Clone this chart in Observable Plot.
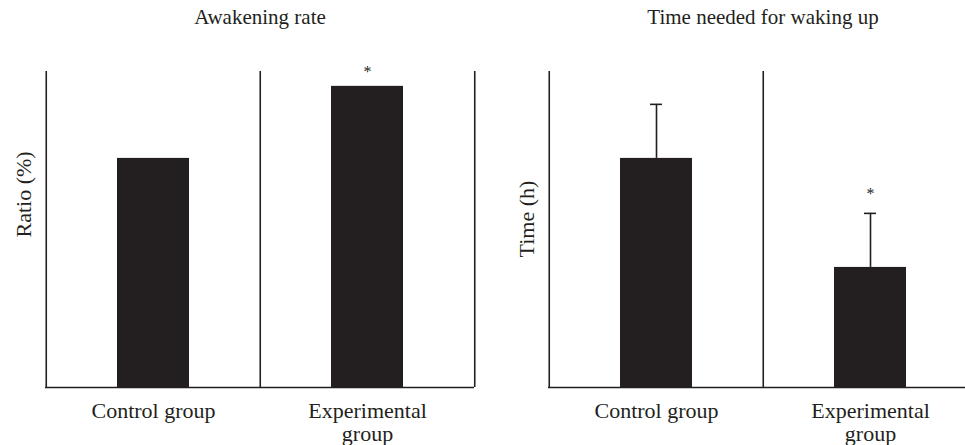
<!DOCTYPE html>
<html><head><meta charset="utf-8">
<script src="https://cdn.jsdelivr.net/npm/d3@7"></script>
<script src="https://cdn.jsdelivr.net/npm/@observablehq/plot@0.6"></script>
<style>
html,body{margin:0;padding:0;background:#fff}
#wrap{position:relative;width:965px;height:445px;overflow:hidden;background:#fff}
#wrap > svg{position:absolute;top:0}
</style>
</head><body><div id="wrap"></div>
<script>
const categories = ["Control group", "Experimental group"];
const tickLabels = ["Control group", "Experimental\ngroup"];
const awakeningRate = [72.5, 95.3];
const awakeningSig = ["", "*"];
const wakeTime = [7.25, 3.8];
const wakeTimeSD = [1.71, 1.71];
const wakeTimeSig = ["", "*"];
const titles = ["Awakening rate", "Time needed for waking up"];
const yLabels = ["Ratio (%)", "Time (h)"];
const yDomains = [[0, 100], [0, 10]];

const INK = "#231f20";
const W = 482, H = 445, ML = 45, MR = 8, MT = 71, MB = 58;
const step = (W - ML - MR) / categories.length;

function panel({values, sds, sig, title, ylabel, ydomain, starDy, labelDy}) {
  const data = categories.map((c, i) => ({
    group: c,
    value: values[i],
    sd: sds ? sds[i] : 0,
    sig: sig[i]
  }));
  const withErr = data.filter(d => d.sd > 0);
  return Plot.plot({
    width: W, height: H,
    marginLeft: ML, marginRight: MR, marginTop: MT, marginBottom: MB,
    style: {fontFamily: "Liberation Serif", fontSize: "21px", color: INK, background: "#fff"},
    x: {domain: categories, paddingInner: 0.664, paddingOuter: 0.332},
    y: {domain: ydomain, axis: null},
    marks: [
      Plot.barY(data, {x: "group", y: "value", fill: INK}),
      Plot.ruleX(withErr, {x: "group", y1: "value", y2: d => d.value + d.sd, stroke: INK, strokeWidth: 1.6}),
      Plot.tickY(withErr, {x: "group", y: d => d.value + d.sd, stroke: INK, strokeWidth: 1.6, insetLeft: 30, insetRight: 30}),
      Plot.text(data, {x: "group", y: d => d.value + d.sd, text: "sig", fontSize: 16, lineAnchor: "middle", dy: starDy, fill: INK}),
      Plot.ruleY([ydomain[0]], {stroke: INK, strokeWidth: 1.6}),
      Plot.ruleX([categories[0]], {stroke: INK, strokeWidth: 1.6, dx: -step / 2}),
      Plot.ruleX(categories.slice(1), {stroke: INK, strokeWidth: 1.6, dx: -step / 2}),
      Plot.ruleX([categories[categories.length - 1]], {stroke: INK, strokeWidth: 1.6, dx: step / 2}),
      Plot.axisX({tickSize: 0, tickPadding: 14, label: null, fill: INK, fontSize: 22, lineHeight: 1.05,
        tickFormat: d => tickLabels[categories.indexOf(d)]}),
      Plot.text([title], {frameAnchor: "top", dy: -54, lineAnchor: "middle", fill: INK, fontSize: 21}),
      Plot.text([ylabel], {frameAnchor: "left", rotate: -90, dx: -22, dy: labelDy, lineAnchor: "middle", fill: INK, fontSize: 22})
    ]
  });
}

const wrap = document.getElementById("wrap");
const p1 = panel({values: awakeningRate, sds: null, sig: awakeningSig, title: titles[0], ylabel: yLabels[0], ydomain: yDomains[0], starDy: -14, labelDy: 8});
p1.style.left = "0px";
wrap.appendChild(p1);
const p2 = panel({values: wakeTime, sds: wakeTimeSD, sig: wakeTimeSig, title: titles[1], ylabel: yLabels[1], ydomain: yDomains[1], starDy: -20, labelDy: 28});
p2.style.left = "503px";
wrap.appendChild(p2);
</script>
</body></html>
